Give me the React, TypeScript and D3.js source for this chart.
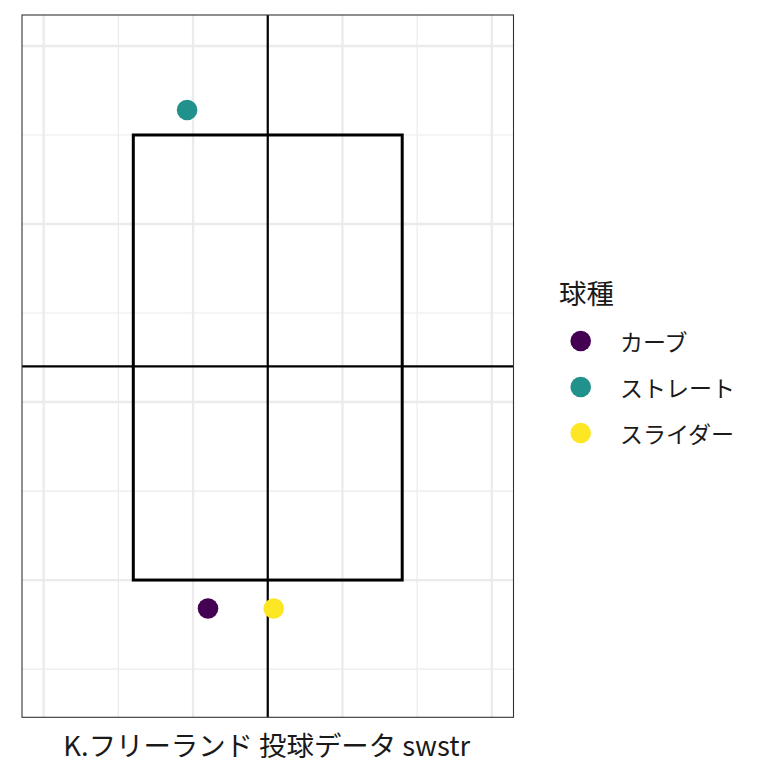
import { useEffect, useRef } from 'react'
import * as d3 from 'd3'

// pitch locations (plate x, plate z)
const pitchTypes = ['カーブ', 'ストレート', 'スライダー']
const pitchX = [-0.4, -0.54, 0.04]
const pitchZ = [0.84, 3.64, 0.84]

// strike zone + cross lines
const zoneX = [-0.9, 0.9]
const zoneZ = [1.0, 3.5]
const crossX = 0
const crossZ = 2.2

// grid breaks
const majorX = [-1.5, -0.5, 0.5, 1.5]
const minorX = [-1, 0, 1]
const majorZ = [1, 2, 3, 4]
const minorZ = [0.5, 1.5, 2.5, 3.5]

const xDomain = [-1.645, 1.645]
const zDomain = [0.229, 4.174]

const caption = 'K.フリーランド 投球データ swstr'
const legendTitle = '球種'

export default function App() {
  const svgRef = useRef<SVGSVGElement>(null)

  useEffect(() => {
    document.body.style.margin = '0'
    if (!svgRef.current) return

    const width = 768
    const height = 768
    const panel = { left: 22, right: 513.5, top: 15, bottom: 717.3 }
    const font = '"Noto Sans CJK JP", "Noto Sans", sans-serif'

    const svg = d3.select(svgRef.current)
    svg.selectAll('*').remove()
    svg.attr('width', width).attr('height', height)

    svg.append('rect')
      .attr('width', width)
      .attr('height', height)
      .attr('fill', '#FFFFFF')

    const xScale = d3.scaleLinear().domain(xDomain).range([panel.left, panel.right])
    const yScale = d3.scaleLinear().domain(zDomain).range([panel.bottom, panel.top])

    const color = d3.scaleOrdinal<string, string>()
      .domain(pitchTypes)
      .range([d3.interpolateViridis(0), d3.interpolateViridis(0.5), d3.interpolateViridis(1)])

    const g = svg.append('g')

    // grid minor
    g.selectAll('line.minor-x')
      .data(minorX)
      .enter()
      .append('line')
      .attr('x1', d => xScale(d))
      .attr('x2', d => xScale(d))
      .attr('y1', panel.top)
      .attr('y2', panel.bottom)
      .attr('stroke', '#EBEBEB')
      .attr('stroke-width', 1.2)

    g.selectAll('line.minor-y')
      .data(minorZ)
      .enter()
      .append('line')
      .attr('x1', panel.left)
      .attr('x2', panel.right)
      .attr('y1', d => yScale(d))
      .attr('y2', d => yScale(d))
      .attr('stroke', '#EBEBEB')
      .attr('stroke-width', 1.2)

    // grid major
    g.selectAll('line.major-x')
      .data(majorX)
      .enter()
      .append('line')
      .attr('x1', d => xScale(d))
      .attr('x2', d => xScale(d))
      .attr('y1', panel.top)
      .attr('y2', panel.bottom)
      .attr('stroke', '#EBEBEB')
      .attr('stroke-width', 2.3)

    g.selectAll('line.major-y')
      .data(majorZ)
      .enter()
      .append('line')
      .attr('x1', panel.left)
      .attr('x2', panel.right)
      .attr('y1', d => yScale(d))
      .attr('y2', d => yScale(d))
      .attr('stroke', '#EBEBEB')
      .attr('stroke-width', 2.3)

    // cross lines
    g.append('line')
      .attr('x1', xScale(crossX))
      .attr('x2', xScale(crossX))
      .attr('y1', panel.top)
      .attr('y2', panel.bottom)
      .attr('stroke', '#000000')
      .attr('stroke-width', 2.2)

    g.append('line')
      .attr('x1', panel.left)
      .attr('x2', panel.right)
      .attr('y1', yScale(crossZ))
      .attr('y2', yScale(crossZ))
      .attr('stroke', '#000000')
      .attr('stroke-width', 2.2)

    // strike zone
    g.append('rect')
      .attr('x', xScale(zoneX[0]))
      .attr('y', yScale(zoneZ[1]))
      .attr('width', xScale(zoneX[1]) - xScale(zoneX[0]))
      .attr('height', yScale(zoneZ[0]) - yScale(zoneZ[1]))
      .attr('fill', 'none')
      .attr('stroke', '#000000')
      .attr('stroke-width', 3)

    // points
    g.selectAll('circle.pitch')
      .data(pitchTypes)
      .enter()
      .append('circle')
      .attr('cx', (_, i) => xScale(pitchX[i]))
      .attr('cy', (_, i) => yScale(pitchZ[i]))
      .attr('r', 10.3)
      .attr('fill', d => color(d))

    // panel border
    g.append('rect')
      .attr('x', panel.left)
      .attr('y', panel.top)
      .attr('width', panel.right - panel.left)
      .attr('height', panel.bottom - panel.top)
      .attr('fill', 'none')
      .attr('stroke', '#333333')
      .attr('stroke-width', 1.1)

    // x title
    svg.append('text')
      .attr('x', (panel.left + panel.right) / 2 - 1)
      .attr('y', 744)
      .attr('text-anchor', 'middle')
      .attr('dominant-baseline', 'central')
      .attr('font-family', font)
      .attr('font-size', 27.4)
      .attr('fill', '#1A1A1A')
      .text(caption)

    // legend
    const legend = svg.append('g')
    legend.append('text')
      .attr('x', 559)
      .attr('y', 292)
      .attr('dominant-baseline', 'central')
      .attr('font-family', font)
      .attr('font-size', 27.4)
      .attr('fill', '#1A1A1A')
      .text(legendTitle)

    const keyY = d3.scalePoint<string>().domain(pitchTypes).range([341, 433])

    legend.selectAll('circle')
      .data(pitchTypes)
      .enter()
      .append('circle')
      .attr('cx', 580.7)
      .attr('cy', d => keyY(d)!)
      .attr('r', 10.3)
      .attr('fill', d => color(d))

    legend.selectAll('text.label')
      .data(pitchTypes)
      .enter()
      .append('text')
      .attr('class', 'label')
      .attr('x', 620)
      .attr('y', d => keyY(d)!)
      .attr('dominant-baseline', 'central')
      .attr('font-family', font)
      .attr('font-size', 23)
      .attr('fill', '#1A1A1A')
      .text(d => d)
  }, [])

  return <svg ref={svgRef} style={{ display: 'block' }} />
}
